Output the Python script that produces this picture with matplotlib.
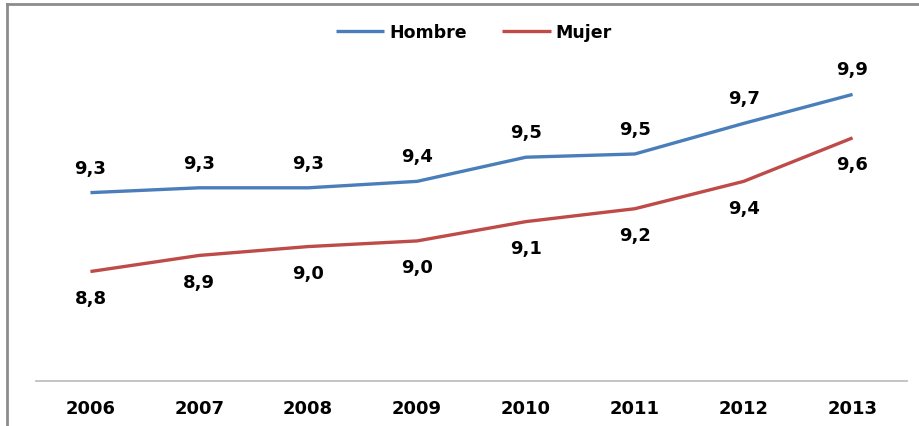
import matplotlib
matplotlib.use("Agg")
import matplotlib.pyplot as plt
from matplotlib.lines import Line2D

years = ["2006", "2007", "2008", "2009", "2010", "2011", "2012", "2013"]
hombre = [9.29, 9.32, 9.32, 9.36, 9.51, 9.53, 9.72, 9.90]
mujer = [8.80, 8.90, 8.955, 8.99, 9.11, 9.19, 9.36, 9.63]

W, H = 920, 427
fig = plt.figure(figsize=(W / 100, H / 100), dpi=100)
ax = fig.add_axes([36 / W, 1 - 382 / H, (907 - 36) / W, (382 - 40) / H])

blue = "#4A7EBB"
red = "#BE4B48"
x = list(range(len(years)))
ax.plot(x, hombre, color=blue, lw=2.4, label="Hombre", solid_capstyle="butt")
ax.plot(x, mujer, color=red, lw=2.4, label="Mujer", solid_capstyle="butt")

fmt = lambda v: f"{v + 1e-9:.1f}".replace(".", ",")
for i, v in enumerate(hombre):
    ax.annotate(fmt(v), (i, v), xytext=(0, 18), textcoords="offset points",
                ha="center", va="center", fontsize=13, fontweight="bold", color="black")
for i, v in enumerate(mujer):
    ax.annotate(fmt(v), (i, v), xytext=(0, -19), textcoords="offset points",
                ha="center", va="center", fontsize=13, fontweight="bold", color="black")

ax.set_xlim(-0.5, len(years) - 0.5)
ax.set_ylim(8.12, 8.12 + 342 / 161)
ax.set_xticks(x)
ax.set_xticklabels(years, fontsize=13, fontweight="bold")
ax.tick_params(axis="x", length=0, pad=13)
ax.set_yticks([])
for s in ["top", "right", "left"]:
    ax.spines[s].set_visible(False)
ax.spines["bottom"].set_color("#BFBFBF")
ax.spines["bottom"].set_linewidth(1.3)

fig.legend(loc="center", bbox_to_anchor=(474 / W, 1 - 33 / H), ncol=2, frameon=False,
           prop={"weight": "bold", "size": 12.5}, handlelength=2.8, handletextpad=0.3,
           columnspacing=2.0)

# outer frame (top and left edges visible)
fig.add_artist(Line2D([7.5 / W, 1.0], [1 - 4.5 / H, 1 - 4.5 / H], transform=fig.transFigure,
                      color="#8C8C8C", lw=2.0))
fig.add_artist(Line2D([7.5 / W, 7.5 / W], [0, 1 - 4.5 / H], transform=fig.transFigure,
                      color="#8C8C8C", lw=2.0))

fig.savefig("out.png", dpi=100, facecolor="white")
